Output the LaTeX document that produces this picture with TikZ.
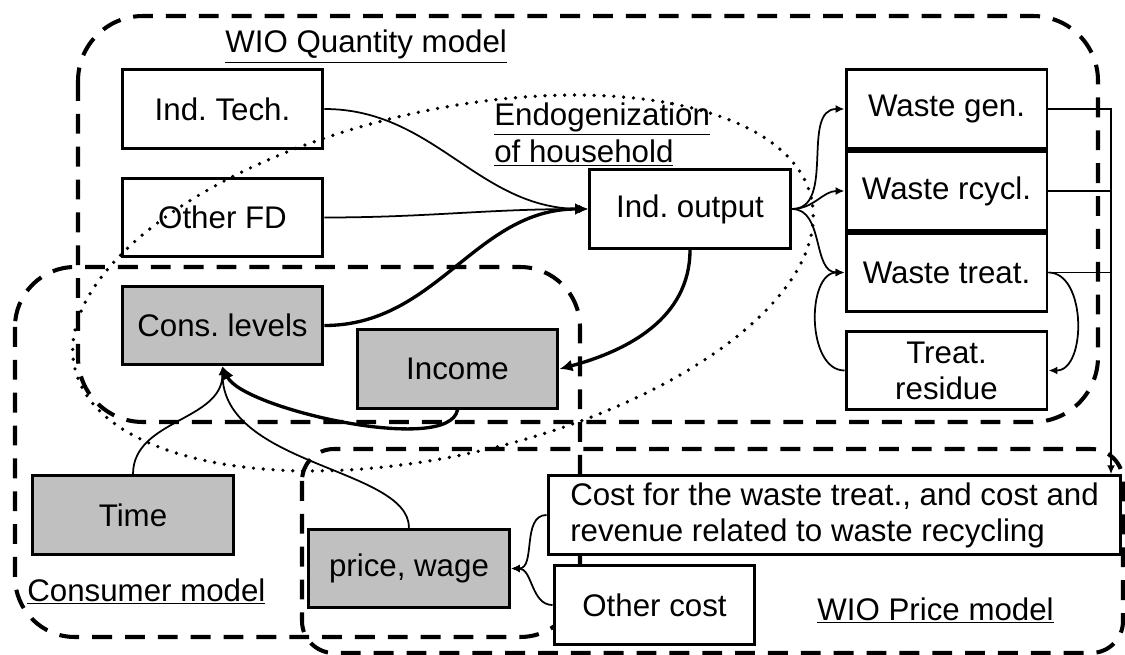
\documentclass[tikz,border=0pt]{standalone}
\usepackage{fontspec}
\setmainfont{Liberation Sans}
\usepackage{tikz}
\usetikzlibrary{arrows.meta}
\usepackage{xcolor}
\definecolor{boxgray}{HTML}{C0C0C0}
\frenchspacing

\begin{document}
\begin{tikzpicture}[x = 0.02cm, y = -0.02cm,
            every node/.style = {font = \fontsize{17.8}{20.5}\selectfont},
            blk/.style = {draw, line width = 1.7pt, fill = white, minimum width = 4.02cm, minimum height = 1.57cm, inner sep = 0pt, align = center},
            gblk/.style = {blk, fill = boxgray},
            region/.style = {line width = 2.3pt, dash pattern = on 11.3pt off 7.4pt},
            endo/.style = {line width = 2.1pt, line cap = round, dash pattern = on 0pt off 5.6pt},
            lnk/.style = {line width = 1pt, -{Latex[length = 1.8mm, width = 1.6mm]}},
            hlnk/.style = {line width = 1.9pt, -{Latex[length = 2.6mm, width = 2.4mm]}},
            lbl/.style = {anchor = base west, inner sep = 0pt}]
            \useasboundingbox (0,0) rectangle (1125,655);
            \draw[region, rounded corners = 1.3cm] (78,16) rectangle (1098,422);
            \draw[region, rounded corners = 1.2cm] (15,267) rectangle (580,637);
            \draw[region, rounded corners = 0.64cm] (302,449) rectangle (1123,653);
            \node[blk] (indtech) at (222.5,109) {Ind. Tech.};
            \node[blk] (otherfd) at (222.5,217.5) {Other FD};
            \node[gblk] (cons) at (222.5,325.5) {Cons. levels};
            \node[gblk] (income) at (457.5,369) {Income};
            \node[gblk] (time) at (133,515) {Time};
            \node[gblk] (price) at (409,568.5) {price, wage};
            \node[blk] (indout) at (690,209) {Ind. output};
            \node[blk] (wgen) at (946.5,109) {Waste gen.};
            \node[blk] (wrec) at (946.5,191) {Waste rcycl.};
            \node[blk] (wtreat) at (946.5,272.5) {Waste treat.};
            \node[blk] (resid) at (946.5,370.5) {Treat.\\residue};
            \node[blk, minimum width = 11.46cm, align = left] (cost) at (834.5,515) {Cost for the waste treat., and cost and\\revenue related to waste recycling};
            \node[blk] (othcost) at (654.5,605) {Other cost};
            \node[lbl] (qlab) at (225,53) {\underline{WIO Quantity model}};
            \node[lbl, anchor = north west, align = left, font = \fontsize{17.8}{21.5}\selectfont] (elab) at (494,102) {\underline{Endogenization}\\\underline{of household}};
            \node[lbl] (clab) at (27,601) {\underline{Consumer model}};
            \node[lbl] (plab) at (817,620) {\underline{WIO Price model}};
            \coordinate (hh) at (443,283);
            \draw[endo, rotate around = {13:(hh)}] (hh) ellipse [x radius = 7.56cm, y radius = 3.44cm];
            \draw[lnk] (indtech.east) to[out = 0, in = 180] (indout.west);
            \draw[lnk] (otherfd.east) to[out = 0, in = 180] (indout.west);
            \draw[hlnk] (cons.east) to[out = 0, in = 180] (indout.west);
            \draw[hlnk] (indout.south) to[out = -90, in = 15] (income.east);
            \draw[hlnk] (income.south) to[out = -100, in = -65, looseness = 0.5] (cons.south);
            \draw[lnk] (time.north) to[out = 90, in = -90] (cons.south);
            \draw[lnk] (price.north) to[out = 90, in = -90, out distance = 1.2cm, in distance = 2cm] (cons.south);
            \draw[lnk] (indout.east) to[out = 0, in = 180] (wgen.west);
            \draw[lnk] (indout.east) to[out = 0, in = 180] (wrec.west);
            \draw[lnk] (indout.east) to[out = 0, in = 180] (wtreat.west);
            \draw[lnk] (resid.west) to[out = 180, in = 180] (wtreat.west);
            \draw[lnk] (wtreat.east) to[out = 0, in = 0] (resid.east);
            \coordinate (bus) at (1111,115);
            \draw[lnk] (wgen.east) -| (bus |- cost.north);
            \draw[line width = 1pt] (wrec.east) -- (wrec.east -| bus);
            \draw[line width = 1pt] (wtreat.east) -- (wtreat.east -| bus);
            \draw[lnk] (cost.west) to[out = 180, in = 0] (price.east);
            \draw[lnk] (othcost.west) to[out = 180, in = 0] (price.east);
        \end{tikzpicture}
\end{document}
